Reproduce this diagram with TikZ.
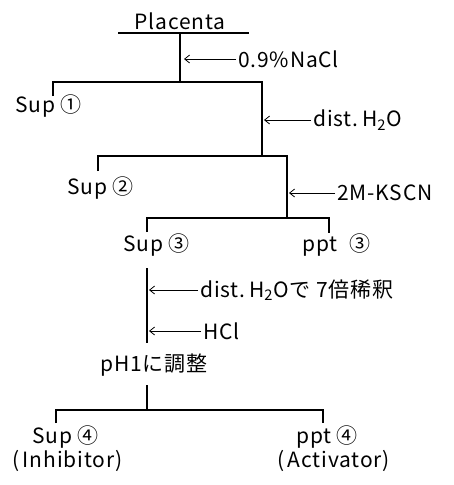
\documentclass[tikz,border=0pt]{standalone}
\usepackage{fontspec}
\newfontfamily\jpfont[LetterSpace=4]{Noto Sans CJK JP}
\usetikzlibrary{arrows.meta,positioning}

\begin{document}
\begin{tikzpicture}[
  x=1pt, y=-1pt,
  fraction/.style={font=\jpfont\fontsize{21}{25}\selectfont, inner sep=0pt, anchor=west},
  reagent/.style={font=\jpfont\fontsize{21}{25}\selectfont, inner sep=2pt, anchor=west},
  flow/.style={line width=1.6pt},
  add/.style={line width=0.8pt, -{Straight Barb[length=5pt,width=8pt]}}
]
  \useasboundingbox (0,0) rectangle (453,485);

  % Start material
  \node[fraction, anchor=center] (placenta) at (180,21) {Placenta};
  \coordinate (barL) at (118,33);
  \coordinate (barR) at (249,33);
  \coordinate (top) at (180,33);
  \draw[flow] (barL) -- (barR);

  % Extraction with NaCl
  \coordinate (split1) at (180,82);
  \draw[flow] (top) -- (split1);
  \node[reagent] (nacl) at (236,59) {0.9\%NaCl};
  \coordinate (naclEnd) at (184,59);
  \draw[add] (nacl.west) -- (naclEnd);
  \coordinate (drop1L) at (53,96);
  \coordinate (split2) at (262,156);
  \draw[flow] (drop1L) |- (split1) -| (split2);
  \node[fraction] (sup1) at (15,106) {Sup ①};

  % dist. H2O
  \node[reagent] (water) at (311,120) {dist.\,H\textsubscript{2}O};
  \coordinate (waterEnd) at (264,120);
  \draw[add] (water.west) -- (waterEnd);
  \coordinate (drop2L) at (98,171);
  \coordinate (split3) at (287,218);
  \draw[flow] (drop2L) |- (split2) -| (split3);
  \node[fraction] (sup2) at (67,188) {Sup ②};

  % 2M-KSCN
  \node[reagent] (kscn) at (335,193) {2M-KSCN};
  \coordinate (kscnEnd) at (289,193);
  \draw[add] (kscn.west) -- (kscnEnd);
  \coordinate (drop3L) at (147,232);
  \coordinate (drop3R) at (329,233);
  \draw[flow] (drop3L) |- (split3) -| (drop3R);
  \node[fraction] (sup3) at (123,245) {Sup ③};
  \node[fraction] (ppt3) at (302,245) {ppt\hspace{12pt}③};

  % dilution and acid
  \coordinate (dilTop) at (147,268);
  \coordinate (dilBot) at (147,343);
  \draw[flow] (dilTop) -- (dilBot);
  \node[reagent] (dilute) at (198,290) {dist.\,H\textsubscript{2}Oで 7倍稀釈};
  \coordinate (diluteEnd) at (149,290);
  \draw[add] (dilute.west) -- (diluteEnd);
  \node[reagent] (hcl) at (201,331) {HCl};
  \coordinate (hclEnd) at (149,331);
  \draw[add] (hcl.west) -- (hclEnd);
  \node[fraction] (ph) at (100,365) {pH1に調整};

  % final separation
  \coordinate (phBot) at (147,385);
  \coordinate (split4) at (147,410);
  \draw[flow] (phBot) -- (split4);
  \coordinate (drop4L) at (56,423);
  \coordinate (drop4R) at (323,423);
  \draw[flow] (drop4L) |- (split4) -| (drop4R);
  \node[fraction] (sup4) at (32,437) {Sup ④};
  \node[fraction] (inhib) at (12,461) {(\,Inhibitor)};
  \node[fraction] (ppt4) at (296,437) {ppt ④};
  \node[fraction] (activ) at (277,461) {(\,Activator)};
\end{tikzpicture}
\end{document}
